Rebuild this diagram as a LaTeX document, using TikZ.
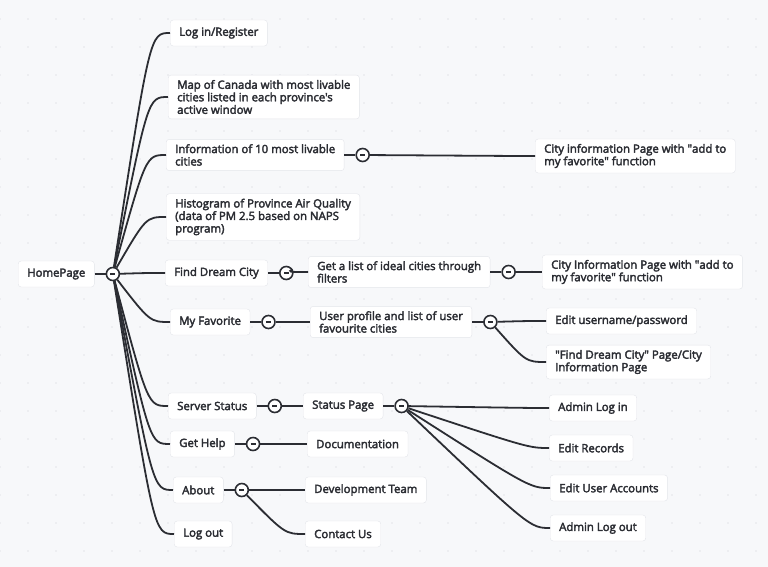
\documentclass[tikz,border=0pt]{standalone}
\usepackage{fontspec}
\setmainfont{Open Sans}
\newfontfamily\medfont{Open Sans}[FakeBold=3]
\usetikzlibrary{positioning}

\definecolor{linkc}{HTML}{2B2D33}
\definecolor{bgc}{HTML}{F7F8FA}
\definecolor{boxline}{HTML}{E3E5EA}
\definecolor{dotc}{HTML}{E3E5E9}

\begin{document}
\begin{tikzpicture}[x=1pt, y=-1pt,
    box/.style={draw=boxline, fill=white, rounded corners=3pt, anchor=west,
        align=left, inner xsep=9pt, inner ysep=5pt, minimum height=26pt,
        text=linkc, font=\medfont\fontsize{11.4}{12.5}\selectfont},
    toggle/.style={circle, draw=linkc, fill=white, line width=1.6pt,
        minimum size=13pt, inner sep=0pt,
        path picture={\draw[linkc, line width=1.5pt]
            ([xshift=-2.5pt]path picture bounding box.center) --
            ([xshift=2.5pt]path picture bounding box.center);}},
    link/.style={draw=linkc, line width=1.8pt}]

    % Fundo com pontos
    \fill[bgc] (0,0) rectangle (768,567);
    \useasboundingbox (0,0) rectangle (768,567);
    \foreach \i in {0,...,27}
        \foreach \j in {0,...,19}
            \fill[dotc] (\i*28,19+\j*28) circle (0.9pt);

    % Raiz
    \node[box] (home) at (18,274) {HomePage};
    \node[toggle, right=11pt of home] (t-home) {};

    % Primeiro nivel
    \node[box] (login) at (170,33) {Log in/Register};
    \node[box] (map) at (168,97) {Map of Canada with most livable\\cities listed in each province's\\active window};
    \node[box] (top10) at (166,155) {Information of 10 most livable\\cities};
    \node[box] (histo) at (166,217) {Histogram of Province Air Quality\\(data of PM 2.5 based on NAPS\\program)};
    \node[box] (find) at (165,273) {Find Dream City};
    \node[box] (favor) at (170,322) {My Favorite};
    \node[box] (server) at (168,406) {Server Status};
    \node[box] (help) at (170,444) {Get Help};
    \node[box] (about) at (173,490) {About};
    \node[box] (logout) at (174,534) {Log out};

    % Botoes de recolher
    \node[toggle, right=11pt of top10] (t-top10) {};
    \node[toggle, right=11pt of find] (t-find) {};
    \node[toggle, right=11pt of favor] (t-favor) {};
    \node[toggle, right=11pt of server] (t-server) {};
    \node[toggle, right=11pt of help] (t-help) {};
    \node[toggle, right=11pt of about] (t-about) {};

    % Segundo nivel
    \node[box] (cityA) at (535,156) {City information Page with \textquotedbl add to\\my favorite\textquotedbl{} function};
    \node[box] (ideal) at (308,272) {Get a list of ideal cities through\\filters};
    \node[toggle, right=11pt of ideal] (t-ideal) {};
    \node[box] (cityB) at (542,272) {City Information Page with \textquotedbl add to\\my favorite\textquotedbl{} function};
    \node[box] (profile) at (310,322) {User profile and list of user\\favourite cities};
    \node[toggle, right=11pt of profile] (t-profile) {};
    \node[box] (editUser) at (546,321) {Edit username/password};
    \node[box] (findPage) at (546,362) {\textquotedbl Find Dream City\textquotedbl{} Page/City\\Information Page};
    \node[box] (status) at (303,406) {Status Page};
    \node[toggle, right=11pt of status] (t-status) {};
    \node[box] (adminIn) at (549,408) {Admin Log in};
    \node[box] (editRec) at (549,448) {Edit Records};
    \node[box] (editAcc) at (550,488) {Edit User Accounts};
    \node[box] (adminOut) at (550,528) {Admin Log out};
    \node[box] (docs) at (307,444) {Documentation};
    \node[box] (devTeam) at (305,490) {Development Team};
    \node[box] (contact) at (305,534) {Contact Us};

    % Ligacoes caixa -> botao
    \foreach \n in {home,top10,find,favor,server,help,about,ideal,profile,status}
        \draw[link] (\n) -- (t-\n);

    % Ligacoes botao -> filhos
    \foreach \p/\c in {home/login, home/map, home/top10, home/histo, home/find,
                       home/favor, home/server, home/help, home/about, home/logout,
                       top10/cityA, find/ideal, ideal/cityB, favor/profile,
                       profile/editUser, profile/findPage, server/status,
                       status/adminIn, status/editRec, status/editAcc, status/adminOut,
                       help/docs, about/devTeam, about/contact}
        \draw[link] (t-\p) .. controls ([xshift=-20pt]\c.west) .. (\c.west);

\end{tikzpicture}
\end{document}
